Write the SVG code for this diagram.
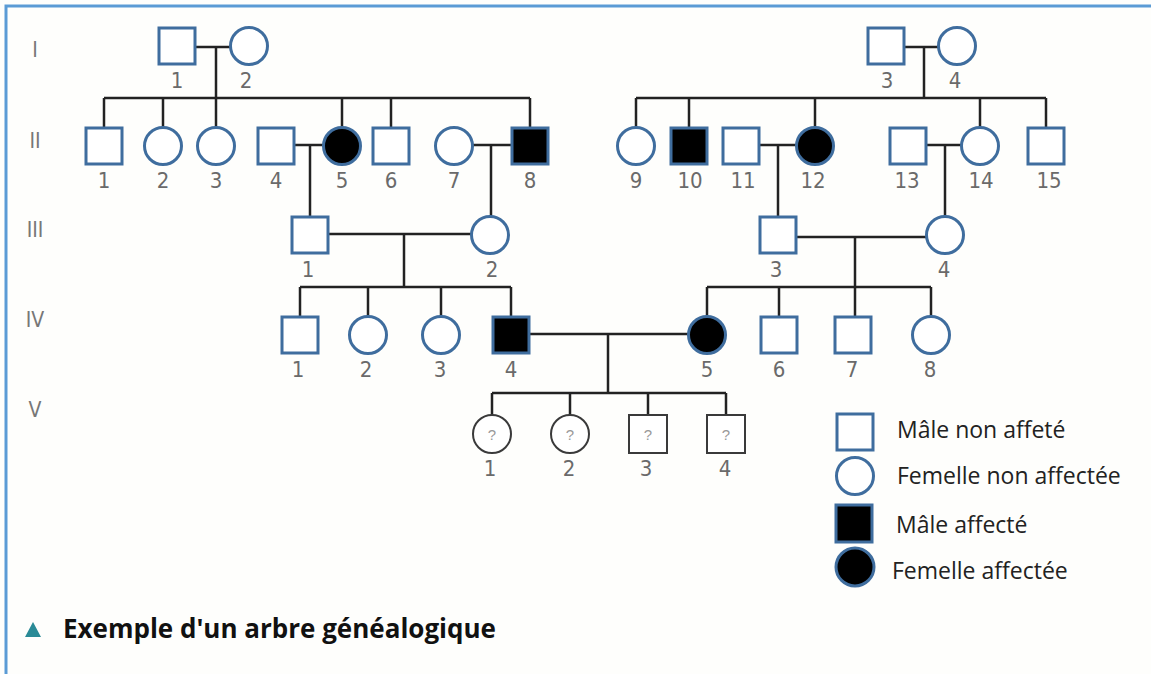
<svg xmlns="http://www.w3.org/2000/svg" width="1151" height="674" viewBox="0 0 1151 674">
<style>
.m{fill:#fff;stroke:#3f6d9e;stroke-width:3}
.a{fill:#000;stroke:#3f6d9e;stroke-width:3}
.u{fill:#fff;stroke:#3a3a3a;stroke-width:2}
.c line{stroke:#222;stroke-width:2.5}
.n{font-family:"Liberation Sans Narrow","DejaVu Sans Condensed","Liberation Sans",sans-serif;font-stretch:condensed;font-size:22px;fill:#6a6a6a;text-anchor:middle}
.g{font-family:"Liberation Sans Narrow","DejaVu Sans Condensed","Liberation Sans",sans-serif;font-stretch:condensed;font-size:21px;fill:#777;text-anchor:middle}
.q{font-family:"Liberation Sans",sans-serif;font-size:15px;fill:#999;text-anchor:middle}
.l{font-family:"Open Sans","Noto Sans",sans-serif;font-size:23px;fill:#222}
.t{font-family:"Open Sans","Noto Sans",sans-serif;font-size:26px;font-weight:bold;fill:#111}
</style>
<rect width="1151" height="674" fill="#fefefc"/>
<path d="M6 674V6H1151" fill="none" stroke="#5b9bd5" stroke-width="3"/>
<g id="gen-labels">
<text class="g" x="35" y="57">I</text>
<text class="g" x="35" y="148">II</text>
<text class="g" x="35" y="237">III</text>
<text class="g" x="35" y="327">IV</text>
<text class="g" x="35" y="417">V</text>
</g>
<g id="connectors" class="c">
<line x1="195" y1="47" x2="231" y2="47"/><line x1="216" y1="47" x2="216" y2="98"/>
<line x1="104" y1="98" x2="530" y2="98"/>
<line x1="104" y1="98" x2="104" y2="128"/><line x1="163" y1="98" x2="163" y2="128"/><line x1="216" y1="98" x2="216" y2="128"/><line x1="342" y1="98" x2="342" y2="128"/><line x1="391" y1="98" x2="391" y2="128"/><line x1="530" y1="98" x2="530" y2="128"/>
<line x1="904" y1="47" x2="939" y2="47"/><line x1="924" y1="47" x2="924" y2="98"/>
<line x1="636" y1="98" x2="1046" y2="98"/>
<line x1="636" y1="98" x2="636" y2="128"/><line x1="689" y1="98" x2="689" y2="128"/><line x1="815" y1="98" x2="815" y2="128"/><line x1="980" y1="98" x2="980" y2="128"/><line x1="1046" y1="98" x2="1046" y2="128"/>
<line x1="294" y1="145" x2="324" y2="145"/><line x1="310" y1="145" x2="310" y2="217"/>
<line x1="472" y1="145" x2="512" y2="145"/><line x1="491" y1="145" x2="491" y2="217"/>
<line x1="759" y1="145" x2="797" y2="145"/><line x1="778" y1="145" x2="778" y2="217"/>
<line x1="926" y1="145" x2="962" y2="145"/><line x1="945" y1="145" x2="945" y2="217"/>
<line x1="328" y1="234" x2="472" y2="234"/><line x1="404" y1="234" x2="404" y2="287"/>
<line x1="300" y1="287" x2="511" y2="287"/>
<line x1="300" y1="287" x2="300" y2="317"/><line x1="368" y1="287" x2="368" y2="317"/><line x1="441" y1="287" x2="441" y2="317"/><line x1="511" y1="287" x2="511" y2="317"/>
<line x1="796" y1="237" x2="927" y2="237"/><line x1="855" y1="237" x2="855" y2="287"/>
<line x1="707" y1="287" x2="931" y2="287"/>
<line x1="707" y1="287" x2="707" y2="317"/><line x1="779" y1="287" x2="779" y2="317"/><line x1="855" y1="287" x2="855" y2="317"/><line x1="931" y1="287" x2="931" y2="317"/>
<line x1="529" y1="334" x2="689" y2="334"/><line x1="608" y1="334" x2="608" y2="393"/>
<line x1="492" y1="393" x2="726" y2="393"/>
<line x1="492" y1="393" x2="492" y2="415"/><line x1="570" y1="393" x2="570" y2="415"/><line x1="648" y1="393" x2="648" y2="415"/><line x1="726" y1="393" x2="726" y2="415"/>
</g>
<g id="I-1"><rect class="m" x="159" y="28" width="36" height="36"/><text class="n" x="177" y="88">1</text></g>
<g id="I-2"><circle class="m" cx="249" cy="46" r="18.5"/><text class="n" x="246" y="88">2</text></g>
<g id="I-3"><rect class="m" x="868" y="28" width="36" height="36"/><text class="n" x="887" y="88">3</text></g>
<g id="I-4"><circle class="m" cx="957" cy="46" r="18.5"/><text class="n" x="955" y="88">4</text></g>
<g id="II-1"><rect class="m" x="86" y="128" width="36" height="36"/><text class="n" x="104" y="188">1</text></g>
<g id="II-2"><circle class="m" cx="163" cy="146" r="18.5"/><text class="n" x="163" y="188">2</text></g>
<g id="II-3"><circle class="m" cx="216" cy="146" r="18.5"/><text class="n" x="216" y="188">3</text></g>
<g id="II-4"><rect class="m" x="258" y="128" width="36" height="36"/><text class="n" x="276" y="188">4</text></g>
<g id="II-5"><circle class="a" cx="342" cy="146" r="18.5"/><text class="n" x="342" y="188">5</text></g>
<g id="II-6"><rect class="m" x="373" y="128" width="36" height="36"/><text class="n" x="391" y="188">6</text></g>
<g id="II-7"><circle class="m" cx="454" cy="146" r="18.5"/><text class="n" x="454" y="188">7</text></g>
<g id="II-8"><rect class="a" x="512" y="128" width="36" height="36"/><text class="n" x="530" y="188">8</text></g>
<g id="II-9"><circle class="m" cx="636" cy="146" r="18.5"/><text class="n" x="636" y="188">9</text></g>
<g id="II-10"><rect class="a" x="671" y="128" width="36" height="36"/><text class="n" x="690" y="188">10</text></g>
<g id="II-11"><rect class="m" x="723" y="128" width="36" height="36"/><text class="n" x="743" y="188">11</text></g>
<g id="II-12"><circle class="a" cx="815" cy="146" r="18.5"/><text class="n" x="813" y="188">12</text></g>
<g id="II-13"><rect class="m" x="890" y="128" width="36" height="36"/><text class="n" x="907" y="188">13</text></g>
<g id="II-14"><circle class="m" cx="980" cy="146" r="18.5"/><text class="n" x="981" y="188">14</text></g>
<g id="II-15"><rect class="m" x="1028" y="128" width="36" height="36"/><text class="n" x="1049" y="188">15</text></g>
<g id="III-1"><rect class="m" x="292" y="217" width="36" height="36"/><text class="n" x="308" y="277">1</text></g>
<g id="III-2"><circle class="m" cx="490" cy="235" r="18.5"/><text class="n" x="492" y="277">2</text></g>
<g id="III-3"><rect class="m" x="760" y="217" width="36" height="36"/><text class="n" x="776" y="277">3</text></g>
<g id="III-4"><circle class="m" cx="945" cy="235" r="18.5"/><text class="n" x="944" y="277">4</text></g>
<g id="IV-1"><rect class="m" x="282" y="317" width="36" height="36"/><text class="n" x="298" y="377">1</text></g>
<g id="IV-2"><circle class="m" cx="368" cy="335" r="18.5"/><text class="n" x="366" y="377">2</text></g>
<g id="IV-3"><circle class="m" cx="441" cy="335" r="18.5"/><text class="n" x="440" y="377">3</text></g>
<g id="IV-4"><rect class="a" x="493" y="317" width="36" height="36"/><text class="n" x="511" y="377">4</text></g>
<g id="IV-5"><circle class="a" cx="707" cy="335" r="18.5"/><text class="n" x="707" y="377">5</text></g>
<g id="IV-6"><rect class="m" x="761" y="317" width="36" height="36"/><text class="n" x="779" y="377">6</text></g>
<g id="IV-7"><rect class="m" x="835" y="317" width="36" height="36"/><text class="n" x="852" y="377">7</text></g>
<g id="IV-8"><circle class="m" cx="931" cy="335" r="18.5"/><text class="n" x="930" y="377">8</text></g>
<g id="V-1"><circle class="u" cx="492" cy="434" r="19"/><text class="q" x="492" y="440">?</text><text class="n" x="490" y="476">1</text></g>
<g id="V-2"><circle class="u" cx="570" cy="434" r="19"/><text class="q" x="570" y="440">?</text><text class="n" x="569" y="476">2</text></g>
<g id="V-3"><rect class="u" x="629" y="415" width="38" height="38"/><text class="q" x="648" y="440">?</text><text class="n" x="646" y="476">3</text></g>
<g id="V-4"><rect class="u" x="707" y="415" width="38" height="38"/><text class="q" x="726" y="440">?</text><text class="n" x="725" y="476">4</text></g>
<g id="legend">
<rect class="m" x="837" y="414" width="36" height="36"/><text class="l" x="897" y="438">Mâle non affeté</text>
<circle class="m" cx="855" cy="476" r="18.5"/><text class="l" x="897" y="484">Femelle non affectée</text>
<rect class="a" x="836" y="505" width="36" height="37"/><text class="l" x="896" y="533">Mâle affecté</text>
<circle class="a" cx="855" cy="567" r="19"/><text class="l" x="892" y="579">Femelle affectée</text>
</g>
<g id="caption">
<polygon points="25,637 41,637 33,622" fill="#2a8a96"/>
<text class="t" x="63" y="638">Exemple d'un arbre généalogique</text>
</g>
</svg>
